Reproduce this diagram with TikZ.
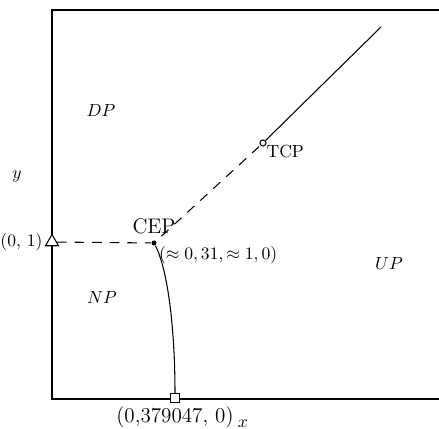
\documentclass[tikz,border=0pt]{standalone}
\usepackage{amsmath,amssymb}
\usetikzlibrary{shapes.geometric,positioning}
\tikzset{
  marque/.style={draw, inner sep=0pt, fill=white},
  tirets/.style={dash pattern=on 5.5pt off 4.5pt},
}
\begin{document}
\begin{tikzpicture}[semithick]

\useasboundingbox (-1.04,-0.6) rectangle (7.74,7.98);
\draw (7.74,7.78) -- (0,7.78) -- (0,0) -- (7.74,0);

% points marques
\node[marque, regular polygon, regular polygon sides=3, minimum size=0.3cm] (tri) at (0,3.14) {};
\node[circle, fill, inner sep=0pt, minimum size=0.1cm] (cep) at (2.04,3.12) {};
\node[marque, circle, minimum size=0.12cm] (tcp) at (4.22,5.12) {};
\node[marque, rectangle, minimum size=0.17cm] (carre) at (2.46,0.02) {};
\coordinate (fin) at (6.58,7.44);

% courbes
\draw[tirets] (tri) -- (cep);
\draw[tirets, shorten <=4pt] (cep) -- (tcp);
\draw (tcp) -- (fin);
\draw (cep) .. controls (2.32,2.58) and (2.46,1.38) .. (carre);

% etiquettes
\node[left=-1pt of tri] (lbtri) {(0, 1)};
\node[above=0pt of cep, font=\large] (lbcep) {CEP};
\node[below right=-3pt and -2pt of cep] (lbcoord) {$(\approx 0,31, \approx 1,0)$};
\node[below right=-4pt and -3pt of tcp] (lbtcp) {TCP};
\node[below=-1.5pt of carre, font=\large] (lbcarre) {(0,379047, 0)};

\node (dp) at (0.98,5.76) {$DP$};
\node (np) at (1.0,2.02) {$NP$};
\node (up) at (6.74,2.7) {$UP$};
\node (ly) at (-0.7,4.46) {$y$};
\node[inner sep=1pt] (lx) at (3.82,-0.5) {$x$};

\end{tikzpicture}
\end{document}
